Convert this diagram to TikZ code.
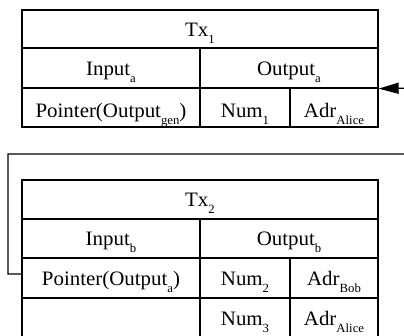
\documentclass[tikz,border=0pt]{standalone}
\usepackage{fontspec}
\setmainfont{Liberation Serif}
\usetikzlibrary{arrows.meta}
\newcommand\subx[1]{\raisebox{-7pt}{\fontsize{12.5}{12.5}\selectfont #1}}
\newcommand\txt[1]{\scalebox{1.02}[1]{\fontsize{20.5}{20.5}\selectfont #1}}
\tikzset{
  cell/.style={draw, line width=1.3pt, inner sep=0pt, text height=15pt, text depth=0pt},
  lowtext/.style={text height=21pt},
  conn/.style={line width=1.2pt, -{Triangle[length=20pt,width=11pt]}}
}
\begin{document}
\begin{tikzpicture}[x=1pt,y=-1pt]
\path[use as bounding box, fill=white] (0,0) rectangle (404,336);
\clip (0,0) rectangle (404,336);
% top table
\node[cell, minimum width=356pt, minimum height=38pt] (tx1) at (200,29) {\txt{Tx\subx{1}}};
\node[cell, minimum width=178pt, minimum height=40pt] (in1) at (111,68) {\txt{Input\subx{a}}};
\node[cell, minimum width=178pt, minimum height=40pt] (out1) at (289,68) {\txt{Output\subx{a}}};
\node[cell, lowtext, minimum width=178pt, minimum height=39pt] (ptr1) at (111,107.5) {\txt{Pointer(Output\subx{gen})}};
\node[cell, lowtext, minimum width=90pt, minimum height=39pt] (num1) at (245,107.5) {\txt{Num\subx{1}}};
\node[cell, lowtext, minimum width=88pt, minimum height=39pt] (adr1) at (334,107.5) {\txt{Adr\subx{Alice}}};
% bottom table
\node[cell, minimum width=356pt, minimum height=39pt] (tx2) at (200,199.5) {\txt{Tx\subx{2}}};
\node[cell, minimum width=178pt, minimum height=39pt] (in2) at (111,238.5) {\txt{Input\subx{b}}};
\node[cell, minimum width=178pt, minimum height=39pt] (out2) at (289,238.5) {\txt{Output\subx{b}}};
\node[cell, minimum width=178pt, minimum height=40pt] (ptr2) at (111,278) {\txt{Pointer(Output\subx{a})}};
\node[cell, minimum width=90pt, minimum height=40pt] (num2) at (245,278) {\txt{Num\subx{2}}};
\node[cell, minimum width=88pt, minimum height=40pt] (adr2) at (334,278) {\txt{Adr\subx{Bob}}};
\node[cell, minimum width=178pt, minimum height=40pt] (emp3) at (111,318) {};
\node[cell, minimum width=90pt, minimum height=40pt] (num3) at (245,318) {\txt{Num\subx{3}}};
\node[cell, minimum width=88pt, minimum height=40pt] (adr3) at (334,318) {\txt{Adr\subx{Alice}}};
% connector
\coordinate (ca) at (8,154);
\coordinate (cb) at (412,88);
\draw[conn] ([yshift=4pt]ptr2.west) -| (ca) -- (ca -| cb) -- (cb) -- (out1.south east);
\end{tikzpicture}
\end{document}
